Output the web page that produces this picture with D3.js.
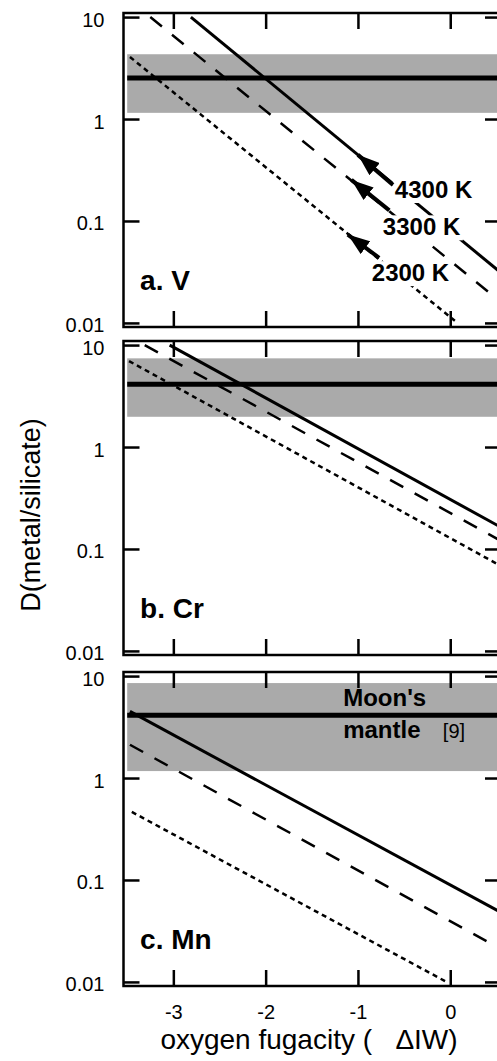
<!DOCTYPE html>
<html>
<head>
<meta charset="utf-8">
<script src="https://cdn.jsdelivr.net/npm/d3@7"></script>
<style>
  body { margin: 0; background: #fff; }
  svg { display: block; font-family: "Liberation Sans", Arial, Helvetica, sans-serif; }
</style>
</head>
<body>
<svg width="497" height="1061"></svg>
<script>
// values
const xTicks = [-3, -2, -1, 0];
const yTicks = [0.01, 0.1, 1, 10];
const yTickLabels = ['0.01', '0.1', '1', '10'];
const panelNames = ['a. V', 'b. Cr', 'c. Mn'];
const temps = ['4300 K', '3300 K', '2300 K'];

// model lines per element: [start, end] as [ΔIW, D], order 4300 K, 3300 K, 2300 K
const vLines = [[[-2.81, 10], [0.55, 0.031]], [[-3.25, 10], [0.55, 0.016]], [[-3.47, 4.06], [0.05, 0.0105]]];
const crLines = [[[-3.04, 10], [0.55, 0.163]], [[-3.31, 10], [0.55, 0.12]], [[-3.48, 6.97], [0.55, 0.068]]];
const mnLines = [[[-3.47, 4.5], [0.55, 0.048]], [[-3.47, 2.12], [0.55, 0.021]], [[-3.45, 0.465], [-0.04, 0.01]]];

// Moon's mantle range: [low, value, high]
const mantleV = [1.15, 2.53, 4.32];
const mantleCr = [1.98, 4.12, 7.41];
const mantleMn = [1.17, 4.12, 8.54];
const bandStart = -3.5;

// temperature arrows in panel a: tip and tail as [ΔIW, D]
const arrowTips = [[-1.0, 0.445], [-1.07, 0.253], [-1.11, 0.0735]];
const arrowTails = [[-0.62, 0.226], [-0.66, 0.127], [-0.77, 0.0435]];
const tempLabelAt = [[-0.60, 0.168], [-0.73, 0.0723], [-0.85, 0.0257]];

const panelData = [
  {name: panelNames[0], lines: vLines, band: mantleV},
  {name: panelNames[1], lines: crLines, band: mantleCr},
  {name: panelNames[2], lines: mnLines, band: mantleMn}
];

const panelTops = [13, 341, 672];
const panelH = 314;
const xLeft = 123.5, xRight = 501;
const dashes = [null, '15,13', '5,4'];
const widths = [3, 2.5, 2.5];

const svg = d3.select('svg');
svg.append('defs').append('marker')
    .attr('id', 'head')
    .attr('markerUnits', 'userSpaceOnUse')
    .attr('viewBox', '0 0 22 16')
    .attr('refX', 0)
    .attr('refY', 8)
    .attr('markerWidth', 22)
    .attr('markerHeight', 16)
    .attr('orient', 'auto')
    .append('path')
    .attr('d', 'M0,8 L22,0 L22,16 Z')
    .attr('fill', 'black');

const xScale = d3.scaleLinear()
    .domain([-3.54, 0.55])
    .range([xLeft, xRight]);

panelData.forEach((p, i) => {
  const top = panelTops[i];
  const yScale = d3.scaleLog()
      .domain([Math.pow(10, -2.04), Math.pow(10, 1.04)])
      .range([top + panelH, top]);
  const g = svg.append('g');

  g.append('clipPath')
      .attr('id', 'clip' + i)
      .append('rect')
      .attr('x', xLeft)
      .attr('y', top)
      .attr('width', xRight - xLeft)
      .attr('height', panelH);
  const inner = g.append('g').attr('clip-path', `url(#clip${i})`);

  // mantle band and its value
  inner.append('rect')
      .attr('x', xScale(bandStart))
      .attr('y', yScale(p.band[2]))
      .attr('width', xScale(0.55) - xScale(bandStart))
      .attr('height', yScale(p.band[0]) - yScale(p.band[2]))
      .style('fill', '#aaaaaa');
  inner.append('line')
      .attr('x1', xScale(bandStart))
      .attr('x2', xScale(0.55))
      .attr('y1', yScale(p.band[1]))
      .attr('y2', yScale(p.band[1]))
      .style('stroke', 'black')
      .style('stroke-width', '5px');

  const line = d3.line()
      .x(d => xScale(d[0]))
      .y(d => yScale(d[1]));
  inner.selectAll('path.model')
      .data(p.lines)
      .enter()
      .append('path')
      .attr('class', 'model')
      .attr('d', line)
      .style('fill', 'none')
      .style('stroke', 'black')
      .style('stroke-width', (d, k) => widths[k] + 'px')
      .style('stroke-dasharray', (d, k) => dashes[k]);

  if (i === 0) {
    temps.forEach((t, k) => {
      const txt = inner.append('text')
          .attr('x', xScale(tempLabelAt[k][0]))
          .attr('y', yScale(tempLabelAt[k][1]))
          .style('font-size', '24px')
          .style('font-weight', 'bold')
          .text(t);
      const bb = txt.node().getBBox();
      inner.insert('rect', () => txt.node())
          .attr('x', bb.x - 2)
          .attr('y', bb.y + 2)
          .attr('width', bb.width + 4)
          .attr('height', bb.height - 2)
          .style('fill', 'white');
      inner.append('line')
          .attr('x1', xScale(arrowTips[k][0]))
          .attr('y1', yScale(arrowTips[k][1]))
          .attr('x2', xScale(arrowTails[k][0]))
          .attr('y2', yScale(arrowTails[k][1]))
          .attr('marker-start', 'url(#head)')
          .style('stroke', 'black')
          .style('stroke-width', '4px');
    });
  }

  if (i === 2) {
    g.append('text')
        .attr('x', xScale(-1.16))
        .attr('y', yScale(5.05))
        .style('font-size', '24px')
        .style('font-weight', 'bold')
        .text("Moon's");
    g.append('text')
        .attr('x', xScale(-1.16))
        .attr('y', yScale(2.49))
        .style('font-size', '24px')
        .style('font-weight', 'bold')
        .text('mantle');
    g.append('text')
        .attr('x', xScale(-0.08))
        .attr('y', yScale(2.45))
        .style('font-size', '20px')
        .text('[9]');
  }

  g.append('text')
      .attr('x', xScale(-3.36))
      .attr('y', yScale(0.021))
      .style('font-size', '28px')
      .style('font-weight', 'bold')
      .text(p.name);

  // axes: ticks point inwards on all four sides
  const yAxis = d3.axisLeft(yScale)
      .tickValues(yTicks)
      .tickFormat((d, k) => yTickLabels[k])
      .tickSizeInner(-16)
      .tickSizeOuter(0)
      .tickPadding(19);
  g.append('g')
      .attr('class', 'axis yleft')
      .attr('transform', `translate(${xLeft}, 0)`)
      .call(yAxis);
  g.append('g')
      .attr('class', 'axis')
      .attr('transform', `translate(${xRight}, 0)`)
      .call(d3.axisRight(yScale).tickValues(yTicks).tickFormat('')
        .tickSizeInner(-16).tickSizeOuter(0));
  g.append('g')
      .attr('class', 'axis')
      .attr('transform', `translate(0, ${top})`)
      .call(d3.axisTop(xScale).tickValues(xTicks).tickFormat('')
        .tickSizeInner(-16).tickSizeOuter(0));
  g.append('g')
      .attr('class', 'axis')
      .attr('transform', `translate(0, ${top + panelH})`)
      .call(d3.axisBottom(xScale).tickValues(xTicks)
        .tickFormat(i === 2 ? (d => String(d)) : '')
        .tickSizeInner(-16).tickSizeOuter(0).tickPadding(19));

  g.append('rect')
      .attr('x', xLeft)
      .attr('y', top)
      .attr('width', xRight - xLeft)
      .attr('height', panelH)
      .style('fill', 'none')
      .style('stroke', 'black')
      .style('stroke-width', '2.5px');
});

svg.selectAll('.axis .domain').remove();
svg.selectAll('.axis line')
    .style('stroke', 'black')
    .style('stroke-width', '2.5px');
svg.selectAll('.axis text')
    .style('font-size', '20px')
    .style('font-family', '"Liberation Sans", Arial, Helvetica, sans-serif')
    .style('fill', 'black');
svg.selectAll('.yleft text')
    .attr('dy', '0.45em');

svg.append('text')
    .attr('transform', 'translate(40, 515) rotate(-90)')
    .attr('text-anchor', 'middle')
    .style('font-size', '27px')
    .text('D(metal/silicate)');
svg.append('text')
    .attr('x', 309)
    .attr('y', 1049)
    .attr('text-anchor', 'middle')
    .attr('xml:space', 'preserve')
    .style('white-space', 'pre')
    .style('font-size', '28px')
    .text('oxygen fugacity (   \u0394IW)');
</script>
</body>
</html>
